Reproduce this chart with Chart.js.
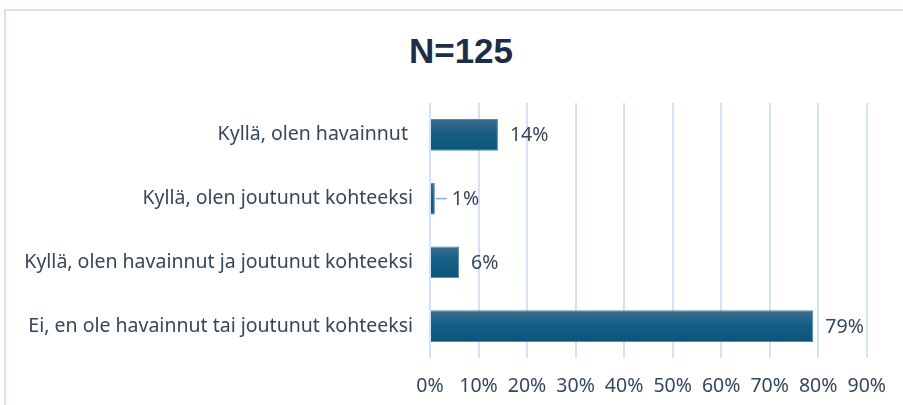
<!DOCTYPE html>
<html>
<head>
<meta charset="utf-8">
<script src="https://cdn.jsdelivr.net/npm/chart.js@4"></script>
<style>
  html, body { margin: 0; padding: 0; background: #fff; }
  #frame { position: absolute; left: 4px; top: 9px; width: 920px; height: 420px; border: 2px solid #d3e2f4; }
  #wrap { position: absolute; left: 0; top: 0; width: 903px; height: 405px; }
  #title { position: absolute; left: 0; top: 31px; width: 922px; text-align: center;
           font: bold 35px/40px "Liberation Sans", Arial, sans-serif; color: #1b2d47; }
</style>
</head>
<body>
<div id="frame"></div>
<div id="title">N=125</div>
<div id="wrap"><canvas id="myChart"></canvas></div>
<script>
'use strict';

let categories = [
    'Kyllä, olen havainnut ',
    'Kyllä, olen joutunut kohteeksi',
    'Kyllä, olen havainnut ja joutunut kohteeksi',
    'Ei, en ole havainnut tai joutunut kohteeksi'
];
let percentValues = [14, 1, 6, 79];
let tickValues = [0, 10, 20, 30, 40, 50, 60, 70, 80, 90];

let textColor = '#37475a';
let fontName = '"Noto Sans", sans-serif';

// gradient per bar, top lighter
function barFill(c) {
    let yScale = c.chart.scales.y;
    if (!yScale || c.dataIndex === undefined) return '#175f86';
    let cy = yScale.getPixelForValue(c.dataIndex);
    let half = (yScale.height / categories.length) * 0.5 / 2;
    if (!isFinite(cy) || !isFinite(half) || half <= 0) return '#175f86';
    let g = c.chart.ctx.createLinearGradient(0, cy - half, 0, cy + half);
    g.addColorStop(0, '#3f6d8e');
    g.addColorStop(0.45, '#155f86');
    g.addColorStop(1, '#0b5579');
    return g;
}

let valueLabels = {
    id: 'valueLabels',
    afterDatasetsDraw(chart) {
        let ctx = chart.ctx;
        let meta = chart.getDatasetMeta(0);
        ctx.save();
        ctx.font = '19.5px ' + fontName;
        ctx.fillStyle = textColor;
        ctx.textBaseline = 'middle';
        ctx.textAlign = 'left';
        meta.data.forEach(function (bar, i) {
            let v = percentValues[i];
            let x = bar.x + 12;
            if (v < 3) {
                ctx.strokeStyle = '#7fb0de';
                ctx.lineWidth = 1.5;
                ctx.beginPath();
                ctx.moveTo(bar.x + 1, bar.y);
                ctx.lineTo(bar.x + 12, bar.y);
                ctx.stroke();
                x = bar.x + 17;
            }
            ctx.fillText(v + '%', x, bar.y + 1);
        });
        ctx.restore();
    }
};

let chart = new Chart(document.getElementById('myChart').getContext('2d'), {
    type: 'bar',
    data: {
        labels: categories,
        datasets: [{
            data: percentValues,
            backgroundColor: barFill,
            borderColor: '#5d87a6',
            borderWidth: 1,
            barPercentage: 0.5,
            categoryPercentage: 1
        }]
    },
    options: {
        indexAxis: 'y',
        responsive: true,
        maintainAspectRatio: false,
        animation: false,
        layout: { padding: { left: 10, right: 35, top: 103, bottom: 0 } },
        plugins: {
            legend: { display: false },
            tooltip: { enabled: false },
            title: { display: false }
        },
        scales: {
            x: {
                min: 0,
                max: 90,
                afterBuildTicks(scale) {
                    scale.ticks = tickValues.map(function (v) { return { value: v }; });
                },
                afterFit(scale) { scale.height = 47; },
                grid: { color: '#d2e3f7', lineWidth: 2, drawTicks: false },
                border: { display: false },
                ticks: {
                    padding: 17,
                    color: textColor,
                    font: { family: fontName, size: 19.5 },
                    callback: function (v) { return v + '%'; }
                }
            },
            y: {
                grid: { display: false, drawTicks: false },
                border: { display: false },
                afterFit(scale) { scale.width = 420; },
                ticks: {
                    padding: 17,
                    color: textColor,
                    font: { family: fontName, size: 19.5 }
                }
            }
        }
    },
    plugins: [valueLabels]
});
</script>
</body>
</html>
